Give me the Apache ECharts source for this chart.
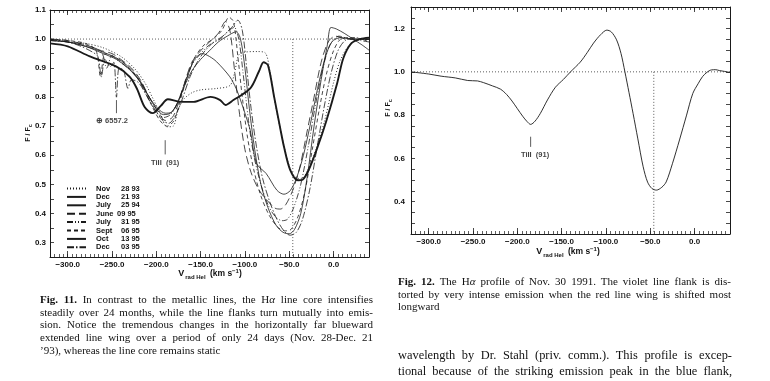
<!DOCTYPE html>
<html><head><meta charset="utf-8">
<script src="https://cdn.jsdelivr.net/npm/echarts@6/dist/echarts.min.js"></script>
<style>
html,body{margin:0;padding:0;background:#fff;}
#wrap{position:relative;width:770px;height:381px;overflow:hidden;background:#fff;}
#c{position:absolute;left:0;top:0;width:770px;height:381px;}
.cap{position:absolute;font-family:"Liberation Serif","Times New Roman",serif;color:#111;}
.cap span.l{display:block;white-space:nowrap;}
.cap .inner{display:inline-block;white-space:nowrap;}
</style></head>
<body><div id="wrap"><div id="c"></div>
<div class="cap" id="cap11" style="left:40px;top:293px;width:333px;font-size:11px;line-height:12.7px;">
<span class="l j"><span class="inner"><b>Fig. 11.</b> In contrast to the metallic lines, the H<i>α</i> line core intensifies</span></span>
<span class="l j"><span class="inner">steadily over 24 months, while the line flanks turn mutually into emis-</span></span>
<span class="l j"><span class="inner">sion. Notice the tremendous changes in the horizontally far blueward</span></span>
<span class="l j"><span class="inner">extended line wing over a period of only 24 days (Nov. 28-Dec. 21</span></span>
<span class="l"><span class="inner">’93), whereas the line core remains static</span></span>
</div>
<div class="cap" id="cap12" style="left:398px;top:275px;width:333px;font-size:11px;line-height:12.7px;">
<span class="l j"><span class="inner"><b>Fig. 12.</b> The H<i>α</i> profile of Nov. 30 1991. The violet line flank is dis-</span></span>
<span class="l j"><span class="inner">torted by very intense emission when the red line wing is shifted most</span></span>
<span class="l"><span class="inner">longward</span></span>
</div>
<div class="cap" id="body" style="left:398px;top:348px;width:334px;font-size:12.4px;line-height:15.5px;">
<span class="l j"><span class="inner">wavelength by Dr. Stahl (priv. comm.). This profile is excep-</span></span>
<span class="l j"><span class="inner">tional because of the striking emission peak in the blue flank,</span></span>
</div>
</div>
<script>
// ---------------- DATA ----------------
const velocityTicks = [-300, -250, -200, -150, -100, -50, 0];
const fig11FluxTicks = [0.3, 0.4, 0.5, 0.6, 0.7, 0.8, 0.9, 1.0, 1.1];
const fig12FluxTicks = [0.4, 0.6, 0.8, 1.0, 1.2];
const continuumLevel = 1.0;
const restVelocity = -46;

const seriesNames = ['Nov 28 93', 'Dec 21 93', 'July 25 94', 'June 09 95', 'July 31 95', 'Sept 06 95', 'Oct 13 95', 'Dec 03 95'];

const nov28_93 = [[-320,1.0],[-300,0.99],[-280,0.985],[-260,0.97],[-240,0.94],[-225,0.9],[-213,0.85],[-203,0.79],[-195,0.74],[-188,0.698],[-181,0.7],[-176,0.75],[-170,0.79],[-160,0.815],[-150,0.825],[-132,0.83],[-117,0.84],[-112,0.88],[-107,0.945],[-100,0.955],[-86,0.957],[-77,0.952],[-72,0.893],[-66,0.78],[-60,0.69],[-55,0.62],[-49,0.555],[-42,0.522],[-36,0.52],[-29,0.55],[-20,0.62],[-10,0.72],[0,0.85],[8,0.93],[18,0.98],[28,1.0],[40,1.0]];
const dec21_93 = [[-320,0.985],[-300,0.975],[-275,0.94],[-245,0.905],[-230,0.87],[-222,0.83],[-213,0.765],[-204,0.745],[-195,0.77],[-187,0.793],[-173,0.784],[-158,0.784],[-139,0.801],[-128,0.79],[-122,0.773],[-113,0.79],[-94,0.83],[-84,0.89],[-79,0.92],[-74,0.91],[-67,0.8],[-60,0.69],[-56,0.63],[-49,0.55],[-40,0.514],[-35,0.516],[-28,0.55],[-19,0.62],[-8,0.72],[4,0.847],[11,0.934],[20,0.985],[30,1.0],[40,1.005]];
const jul25_94 = [[-320,0.995],[-300,0.99],[-280,0.975],[-260,0.955],[-242,0.93],[-230,0.9],[-218,0.855],[-208,0.8],[-198,0.76],[-190,0.745],[-183,0.748],[-175,0.79],[-165,0.87],[-157,0.93],[-148,0.95],[-140,0.94],[-132,0.922],[-117,0.87],[-110,0.83],[-105,0.79],[-99,0.735],[-94,0.686],[-87,0.572],[-76,0.537],[-64,0.48],[-56,0.466],[-49,0.478],[-42,0.52],[-34,0.6],[-26,0.71],[-18,0.83],[-10,0.93],[-2,0.99],[8,1.005],[20,1.0],[30,1.0],[40,1.0]];
const jun09_95 = [[-320,1.0],[-300,0.995],[-280,0.98],[-262,0.96],[-250,0.95],[-240,0.93],[-228,0.9],[-218,0.86],[-208,0.8],[-198,0.75],[-190,0.72],[-182,0.73],[-175,0.78],[-167,0.86],[-160,0.92],[-150,0.96],[-140,0.99],[-130,1.02],[-122,1.06],[-117,1.03],[-112,0.9],[-106,0.74],[-100,0.62],[-93,0.54],[-84,0.48],[-75,0.445],[-66,0.418],[-60,0.415],[-54,0.43],[-46,0.48],[-38,0.56],[-30,0.68],[-22,0.8],[-14,0.92],[-6,0.99],[2,1.01],[15,1.0],[28,1.0],[40,1.0]];
const jul31_95 = [[-320,0.995],[-300,0.99],[-280,0.98],[-262,0.955],[-256,0.9],[-250,0.945],[-245,0.93],[-232,0.9],[-220,0.86],[-210,0.8],[-200,0.75],[-192,0.73],[-184,0.74],[-176,0.78],[-168,0.85],[-160,0.91],[-150,0.95],[-140,0.98],[-128,1.0],[-118,1.03],[-112,1.04],[-107,1.0],[-102,0.88],[-96,0.72],[-90,0.6],[-82,0.5],[-74,0.43],[-66,0.39],[-58,0.375],[-52,0.38],[-45,0.42],[-37,0.5],[-28,0.64],[-20,0.78],[-12,0.9],[-4,0.98],[6,1.01],[18,1.0],[30,0.995],[40,0.99]];
const sep06_95 = [[-320,1.0],[-300,0.995],[-280,0.985],[-268,0.96],[-263,0.87],[-258,0.95],[-250,0.94],[-238,0.92],[-225,0.88],[-214,0.83],[-205,0.77],[-196,0.72],[-188,0.7],[-180,0.72],[-172,0.8],[-164,0.88],[-156,0.94],[-146,0.98],[-136,1.0],[-126,1.03],[-118,1.075],[-113,1.06],[-108,0.94],[-103,0.8],[-97,0.66],[-90,0.55],[-82,0.46],[-72,0.39],[-62,0.35],[-54,0.34],[-48,0.345],[-40,0.39],[-32,0.48],[-24,0.62],[-16,0.76],[-8,0.88],[0,0.96],[8,1.0],[18,1.005],[30,1.0],[40,1.0]];
const oct13_95 = [[-320,0.995],[-300,0.99],[-280,0.975],[-260,0.95],[-245,0.93],[-232,0.9],[-220,0.86],[-210,0.81],[-200,0.76],[-192,0.74],[-184,0.745],[-176,0.78],[-168,0.84],[-160,0.89],[-150,0.93],[-140,0.96],[-130,0.99],[-120,1.01],[-110,1.025],[-105,1.0],[-100,0.9],[-95,0.76],[-89,0.62],[-82,0.5],[-74,0.42],[-65,0.36],[-57,0.335],[-50,0.33],[-44,0.345],[-37,0.4],[-30,0.52],[-22,0.7],[-14,0.86],[-7,0.98],[-3,1.04],[3,1.035],[12,1.02],[22,1.0],[32,0.98],[40,0.962]];
const dec03_95 = [[-320,1.0],[-300,0.99],[-285,0.975],[-272,0.955],[-266,0.94],[-262,0.87],[-258,0.93],[-252,0.905],[-248,0.92],[-245,0.8],[-242,0.9],[-237,0.893],[-232,0.83],[-228,0.86],[-220,0.85],[-210,0.8],[-200,0.75],[-193,0.72],[-186,0.71],[-178,0.74],[-170,0.8],[-162,0.87],[-154,0.92],[-145,0.96],[-135,0.99],[-125,1.01],[-115,1.04],[-108,1.065],[-103,1.03],[-98,0.9],[-93,0.76],[-87,0.63],[-80,0.52],[-72,0.44],[-64,0.38],[-56,0.34],[-49,0.325],[-42,0.335],[-35,0.38],[-27,0.48],[-19,0.62],[-11,0.76],[-3,0.88],[5,0.96],[13,0.995],[24,1.005],[32,1.0],[40,0.99]];

const nov30_91 = [[-320,1.0],[-300,0.99],[-286,0.98],[-270,0.972],[-256,0.96],[-245,0.958],[-238,0.95],[-228,0.935],[-219,0.92],[-212,0.895],[-206,0.865],[-200,0.83],[-194,0.795],[-189,0.77],[-185,0.757],[-180,0.772],[-174,0.808],[-166,0.87],[-157,0.929],[-148,0.965],[-140,1.0],[-129,1.045],[-121,1.09],[-114,1.133],[-106,1.172],[-99,1.193],[-94,1.185],[-88,1.148],[-83,1.085],[-78.6,1.0],[-74,0.905],[-69.4,0.808],[-64,0.69],[-58,0.561],[-53,0.49],[-48,0.46],[-43,0.453],[-37,0.466],[-32,0.491],[-25,0.575],[-17,0.685],[-9,0.8],[-2,0.9],[4,0.945],[9,0.978],[14,0.998],[19,1.009],[24,1.01],[28,1.006],[34,1.002],[40,0.997]];

// annotations (velocity, flux)
const telluricMark = {v: -245, top: 0.79, bottom: 0.745, labelV: -250, labelF: 0.717, text: '\u2295 6557.2'};
const tiMark11 = {v: -190, top: 0.652, bottom: 0.603, labelV: -190, labelF: 0.572, text: 'TiII  (91)'};
const tiMark12 = {v: -185, top: 0.70, bottom: 0.653, labelV: -180, labelF: 0.615, text: 'TiII  (91)'};

// ---------------- STYLE ----------------
const INK = '#1a1a1a';
const SANS = '"Liberation Sans", Arial, sans-serif';
const curveStyles = [
  {width: 0.9, type: [1, 2]},
  {width: 1.9, type: 'solid'},
  {width: 0.8, type: 'solid'},
  {width: 0.8, type: [8, 4]},
  {width: 0.8, type: [6, 2, 1, 2, 1, 2]},
  {width: 0.8, type: [4, 3]},
  {width: 0.8, type: 'solid'},
  {width: 0.8, type: [7, 2, 1.5, 2]}
];
const curves11 = [nov28_93, dec21_93, jul25_94, jun09_95, jul31_95, sep06_95, oct13_95, dec03_95];

const fmtV = v => (v < 0 ? '\u2212' : '') + Math.abs(v).toFixed(1);
const fmtF = v => v.toFixed(1);
const tickFont = {fontSize: 8, fontFamily: SANS, fontWeight: 'bold', color: '#111'};

function xAxesFor(g, labelMargin) {
  const base = {gridIndex: g, type: 'value', min: -320, max: 40, splitLine: {show: false}};
  return [
    Object.assign({}, base, {position: 'bottom',
      axisLine: {show: true, onZero: false, lineStyle: {color: INK, width: 1}},
      axisTick: {show: true, inside: true, length: 6, customValues: velocityTicks, lineStyle: {color: INK, width: 0.8}},
      axisLabel: Object.assign({show: true, customValues: velocityTicks, formatter: fmtV, margin: labelMargin}, tickFont)}),
    Object.assign({}, base, {position: 'bottom', interval: 5,
      axisLine: {show: false, onZero: false},
      axisTick: {show: true, inside: true, length: 3, lineStyle: {color: INK, width: 0.7}},
      axisLabel: {show: false}}),
    Object.assign({}, base, {position: 'top', interval: 5,
      axisLine: {show: true, onZero: false, lineStyle: {color: INK, width: 1}},
      axisTick: {show: true, inside: true, length: 3, lineStyle: {color: INK, width: 0.7}},
      axisLabel: {show: false}}),
    Object.assign({}, base, {position: 'top',
      axisLine: {show: false, onZero: false},
      axisTick: {show: true, inside: true, length: 5, customValues: velocityTicks, lineStyle: {color: INK, width: 0.8}},
      axisLabel: {show: false}})
  ];
}
function yAxesFor(g, max, labels, margin) {
  const base = {gridIndex: g, type: 'value', min: 0.25, max: max, interval: 0.05, splitLine: {show: false}};
  return [
    Object.assign({}, base, {position: 'left',
      axisLine: {show: true, onZero: false, lineStyle: {color: INK, width: 1}},
      axisTick: {show: true, inside: true, length: 4, lineStyle: {color: INK, width: 0.8}},
      axisLabel: Object.assign({show: true, customValues: labels, formatter: fmtF, margin: margin}, tickFont)}),
    Object.assign({}, base, {position: 'right',
      axisLine: {show: true, onZero: false, lineStyle: {color: INK, width: 1}},
      axisTick: {show: true, inside: true, length: 4, lineStyle: {color: INK, width: 0.8}},
      axisLabel: {show: false}})
  ];
}

const series = [];
curves11.forEach((d, i) => {
  series.push({
    name: seriesNames[i], type: 'line', xAxisIndex: 0, yAxisIndex: 0, data: d,
    symbol: 'none', smooth: 0.3, silent: true, clip: true,
    lineStyle: {color: INK, width: curveStyles[i].width, type: curveStyles[i].type}
  });
});
function refLines(xi, yi) {
  return [
    {type: 'line', xAxisIndex: xi, yAxisIndex: yi, data: [[-320, continuumLevel], [40, continuumLevel]], symbol: 'none', silent: true,
      lineStyle: {color: '#333', width: 0.8, type: [1, 2]}},
    {type: 'line', xAxisIndex: xi, yAxisIndex: yi, data: [[restVelocity, continuumLevel], [restVelocity, 0.25]], symbol: 'none', silent: true,
      lineStyle: {color: '#333', width: 0.8, type: [1, 2]}}
  ];
}
function marker(xi, yi, m) {
  return [
    {type: 'line', xAxisIndex: xi, yAxisIndex: yi, data: [[m.v, m.top], [m.v, m.bottom]], symbol: 'none', silent: true,
      lineStyle: {color: '#333', width: 0.8}},
    {type: 'scatter', xAxisIndex: xi, yAxisIndex: yi, data: [[m.labelV, m.labelF]], symbolSize: 0, silent: true,
      label: {show: true, position: 'inside', formatter: m.text, fontSize: 7.5, fontFamily: SANS, fontWeight: 'bold', color: '#111'}}
  ];
}
series.push(...refLines(0, 0));
series.push(...marker(0, 0, telluricMark));
series.push(...marker(0, 0, tiMark11));
series.push({type: 'line', xAxisIndex: 4, yAxisIndex: 2, data: nov30_91, symbol: 'none', smooth: 0.3, silent: true,
  lineStyle: {color: INK, width: 0.9}});
series.push(...refLines(4, 2));
series.push(...marker(4, 2, tiMark12));

const richBase = {fontSize: 7.5, fontFamily: SANS, color: '#111', fontWeight: 'bold', lineHeight: 7.4};

const titleTok = (size, va) => ({fontSize: size, fontFamily: SANS, fontWeight: 'bold', fill: '#111', verticalAlign: va, lineHeight: 12});
const vTitle = {
  text: '{v|V}{s|rad Hel}{m| (km s}{p|\u22121}{m|)}',
  fill: '#111', align: 'center', verticalAlign: 'middle',
  rich: {
    v: titleTok(9, 'middle'),
    m: titleTok(8.5, 'middle'),
    s: Object.assign(titleTok(6, 'bottom'), {padding: [0, 2, 0, 1]}),
    p: titleTok(6, 'top')
  }
};
const fTitle = {
  text: '{m|F / F}{s|c}', fill: '#111', align: 'center', verticalAlign: 'middle',
  rich: {m: Object.assign(titleTok(7, 'middle'), {lineHeight: 10}), s: Object.assign(titleTok(5.5, 'bottom'), {lineHeight: 10})}
};

const option = {
  animation: false,
  backgroundColor: '#fff',
  grid: [
    {left: 50, top: 10, width: 319, height: 247, containLabel: false},
    {left: 411, top: 7, width: 319, height: 227, containLabel: false}
  ],
  xAxis: [...xAxesFor(0, 4), ...xAxesFor(1, 4)],
  yAxis: [...yAxesFor(0, 1.1, fig11FluxTicks, 4), ...yAxesFor(1, 1.3, fig12FluxTicks, 6)],
  legend: {
    data: seriesNames, orient: 'vertical', left: 66, top: 184.5, itemWidth: 19, itemHeight: 7, itemGap: 0.4,
    selectedMode: false, padding: 0,
    itemStyle: {opacity: 0},
    textStyle: {fontSize: 7.5, fontFamily: SANS, color: '#111', lineHeight: 7.4, rich: {
      n: Object.assign({padding: [0, 0, 0, 5], width: 21}, richBase),
      w: Object.assign({padding: [0, 0, 0, 5], width: 25}, richBase),
      d: Object.assign({}, richBase)
    }},
    formatter: name => {
      const p = name.split(' ');
      const key = p[0] === 'June' ? 'n' : 'w';
      return '{' + key + '|' + p[0] + '}{d|' + p.slice(1).join(' ') + '}';
    }
  },
  graphic: [
    {type: 'text', x: 210, y: 274, silent: true, style: vTitle},
    {type: 'text', x: 568, y: 252, silent: true, style: vTitle},
    {type: 'text', x: 28, y: 133, rotation: Math.PI / 2, silent: true, style: fTitle},
    {type: 'text', x: 388, y: 108, rotation: Math.PI / 2, silent: true, style: fTitle}
  ],
  series: series
};

const chart = echarts.init(document.getElementById('c'), null, {renderer: 'canvas'});
chart.setOption(option);

// justify caption lines by word spacing
document.querySelectorAll('.cap').forEach(cap => {
  const target = cap.clientWidth;
  cap.querySelectorAll('span.l.j .inner').forEach(inner => {
    const w = inner.getBoundingClientRect().width;
    const spaces = (inner.textContent.match(/ /g) || []).length;
    if (spaces > 0) inner.style.wordSpacing = ((target - w) / spaces) + 'px';
  });
});
</script>
</body></html>
